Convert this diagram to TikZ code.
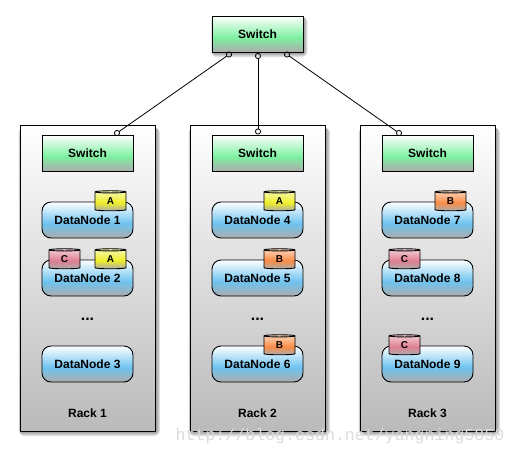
\documentclass[tikz,border=0pt]{standalone}
\usepackage{fontspec}
\setmainfont{Liberation Sans}
\newfontfamily\markfont{Liberation Mono}
\usetikzlibrary{shapes.geometric,arrows.meta}

\definecolor{shadegray}{RGB}{172,172,172}
\definecolor{rackgray}{RGB}{186,186,186}
\definecolor{switchgreen}{RGB}{125,240,160}
\definecolor{nodeblue}{RGB}{110,195,240}
\definecolor{diskyellow}{RGB}{238,238,40}
\definecolor{diskpink}{RGB}{222,125,145}
\definecolor{diskorange}{RGB}{250,140,70}

\pgfdeclareverticalshading{switchshade}{100bp}{color(0bp)=(shadegray); color(25bp)=(shadegray); color(45bp)=(switchgreen); color(75bp)=(white); color(100bp)=(white)}
\pgfdeclareverticalshading{nodeshade}{100bp}{color(0bp)=(shadegray); color(25bp)=(shadegray); color(45bp)=(nodeblue); color(75bp)=(white); color(100bp)=(white)}
\pgfdeclareverticalshading{rackshade}{100bp}{color(0bp)=(rackgray); color(25bp)=(rackgray); color(75bp)=(white); color(100bp)=(white)}
\pgfdeclareverticalshading{diskA}{100bp}{color(0bp)=(shadegray); color(25bp)=(shadegray); color(45bp)=(diskyellow); color(75bp)=(diskyellow!35); color(100bp)=(diskyellow!35)}
\pgfdeclareverticalshading{diskB}{100bp}{color(0bp)=(shadegray); color(25bp)=(shadegray); color(45bp)=(diskorange); color(75bp)=(diskorange!35); color(100bp)=(diskorange!35)}
\pgfdeclareverticalshading{diskC}{100bp}{color(0bp)=(shadegray); color(25bp)=(shadegray); color(45bp)=(diskpink); color(75bp)=(diskpink!35); color(100bp)=(diskpink!35)}

\tikzset{
    label text/.style={font=\bfseries\fontsize{12}{12}\selectfont},
    switch/.style={draw, line width=0.9pt, shading=switchshade, minimum width=91pt, minimum height=36pt, inner sep=0pt, label text},
    rack/.style={draw, line width=0.9pt, shading=rackshade, minimum width=135pt, minimum height=306pt},
    datanode/.style={draw, line width=0.9pt, rounded corners=9pt, shading=nodeshade, minimum width=91pt, minimum height=36pt, inner sep=0pt, label text},
    disk/.style={draw, line width=0.9pt, cylinder, shape border rotate=90, aspect=0.3, minimum width=31pt, minimum height=20pt, inner sep=0pt, font=\bfseries\fontsize{10}{10}\selectfont},
    dots/.style={font=\bfseries\fontsize{16}{16}\selectfont},
    link/.style={line width=0.8pt, shorten <=-3pt, shorten >=-3pt, {Circle[open,length=6pt,width=6pt]}-{Circle[open,length=6pt,width=6pt]}}
}

\begin{document}
\begin{tikzpicture}[x=1pt, y=-1pt]
    \useasboundingbox (0,0) rectangle (516,455);

    % Soft shadows under the racks and the top switch
    \foreach \x in {87.5,257.5,427.5} {
        \foreach \i in {1,...,6} {
            \fill[black, opacity=0.08, rounded corners=\i pt] (\x-66.5-0.4*\i, 129-0.3*\i) rectangle (\x+68.5+0.7*\i, 431.5+0.8*\i);
        }
    }
    \foreach \i in {1,...,6} {
        \fill[black, opacity=0.08, rounded corners=\i pt] (213.5-0.4*\i, 18-0.3*\i) rectangle (303.5+0.7*\i, 52.5+0.8*\i);
    }

    % Racks
    \node[rack] (rack1) at (87.5,278) {};
    \node[rack] (rack2) at (257.5,278) {};
    \node[rack] (rack3) at (427.5,278) {};
    \node[label text] (rackname1) at (87.5,413) {Rack 1};
    \node[label text] (rackname2) at (257.5,413) {Rack 2};
    \node[label text] (rackname3) at (427.5,413) {Rack 3};

    % Switches
    \node[switch] (core) at (257.5,34) {Switch};
    \node[switch] (switch1) at (87.5,153) {Switch};
    \node[switch] (switch2) at (257.5,153) {Switch};
    \node[switch] (switch3) at (427.5,153) {Switch};

    % Data nodes
    \foreach \name/\x/\y [count=\n] in {1/87.5/220, 2/87.5/278, 3/87.5/364, 4/257.5/220, 5/257.5/278, 6/257.5/364, 7/427.5/220, 8/427.5/278, 9/427.5/364} {
        \node[datanode] (dn\n) at (\x,\y) {DataNode \name};
    }

    % Blocks
    \foreach \letter/\host/\dx [count=\n] in {A/dn1/23, C/dn2/-23, A/dn2/23, A/dn4/22, B/dn5/22, B/dn6/22, B/dn7/23, C/dn8/-23, C/dn9/-23} {
        \node[disk, shading=disk\letter] (block\n) at ([xshift=\dx pt]\host.north) {\letter};
    }

    % Dots
    \node[dots] (dots1) at (87.5,319) {...};
    \node[dots] (dots2) at (257.5,319) {...};
    \node[dots] (dots3) at (427.5,319) {...};

    % Ports
    \coordinate (out1) at (229,54.5);
    \coordinate (out2) at (258,56);
    \coordinate (out3) at (287,54.5);
    \coordinate (in1) at (117,133);
    \coordinate (in2) at (258,131.5);
    \coordinate (in3) at (399,133);
    \draw[link] (out1) -- (in1);
    \draw[link] (out2) -- (in2);
    \draw[link] (out3) -- (in3);

    % Watermark
    \node[font=\markfont\fontsize{16.6}{16.6}\selectfont, text=black!14, inner sep=0pt] (mark) at (340,436) {http://blog.csdn.net/yangning5850};
\end{tikzpicture}
\end{document}
